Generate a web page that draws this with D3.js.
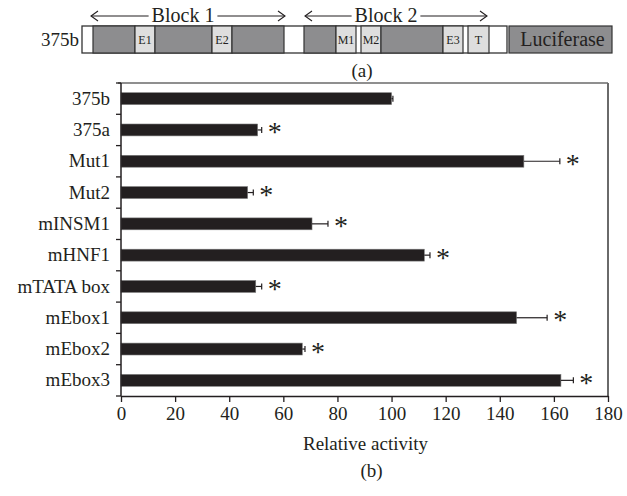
<!DOCTYPE html>
<html>
<head>
<meta charset="utf-8">
<script src="https://cdn.jsdelivr.net/npm/d3@7"></script>
<style>
  html, body { margin: 0; padding: 0; background: #fff; }
  svg { display: block; }
  text { font-family: "Liberation Serif", "DejaVu Serif", serif; fill: #231f20; }
</style>
</head>
<body>
<svg id="chart" width="627" height="496"></svg>
<script>
// ---------- DATA ----------
const categories = ["375b", "375a", "Mut1", "Mut2", "mINSM1", "mHNF1", "mTATA box", "mEbox1", "mEbox2", "mEbox3"];
const values = [100, 50.5, 148.9, 46.8, 70.6, 112.1, 49.8, 146.2, 67.0, 162.6];
const errors = [0.5, 1.5, 13.3, 2.1, 5.9, 2.1, 2.2, 11.3, 1.0, 4.6];
const significant = [false, true, true, true, true, true, true, true, true, true];
const xTicks = [0, 20, 40, 60, 80, 100, 120, 140, 160, 180];
const xTitle = "Relative activity";

// construct schematic (schematic units along the construct)
const constructName = "375b";
const segStart = [11, 53, 73, 130, 150, 222, 254, 279, 299, 361, 386, 427];
const segEnd   = [53, 73, 130, 150, 202, 254, 274, 299, 361, 381, 407, 530];
const segType  = ["region", "site", "region", "site", "region", "region", "site", "site", "region", "site", "site", "reporter"];
const segLabel = ["", "E1", "", "E2", "", "", "M1", "M2", "", "E3", "T", "Luciferase"];
const constructLength = 425;
const blockNames = ["Block 1", "Block 2"];
const blockStart = [9, 223];
const blockEnd = [203, 405];

// ---------- CHART ----------
const svg = d3.select("#chart");
const dark = "#231f20";

// Panel (a): schematic
const sx = d3.scaleLinear().domain([0, 530]).range([82, 612]);
const boxTop = 26, boxH = 27;
const ga = svg.append("g");

ga.append("text").attr("x", 79).attr("y", 46).attr("text-anchor", "end")
  .style("font-size", "19px").text(constructName);

ga.append("rect").attr("x", sx(0)).attr("y", boxTop)
  .attr("width", sx(constructLength) - sx(0)).attr("height", boxH)
  .attr("fill", "#fff").attr("stroke", "#333").attr("stroke-width", 1.3);

const fills = { region: "#8d8d8f", site: "#dedede", reporter: "#8d8d8f" };
segStart.forEach((s, i) => {
  ga.append("rect").attr("x", sx(s)).attr("y", boxTop)
    .attr("width", sx(segEnd[i]) - sx(s)).attr("height", boxH)
    .attr("fill", fills[segType[i]]).attr("stroke", "#333").attr("stroke-width", 1.2);
  if (segLabel[i]) {
    const rep = segType[i] === "reporter";
    ga.append("text").attr("x", (sx(s) + sx(segEnd[i])) / 2 + (rep ? 2 : 0))
      .attr("y", rep ? 45.5 : 44).attr("text-anchor", "middle")
      .style("font-size", rep ? "20px" : "12px").text(segLabel[i]);
  }
});

// block arrows
const arrowY = 16;
blockNames.forEach((name, i) => {
  const x0 = sx(blockStart[i]), x1 = sx(blockEnd[i]);
  const cx = (x0 + x1) / 2 - 5 + (i === 1 ? -5 : 0);
  const t = ga.append("text").attr("x", cx).attr("y", 21.5).attr("text-anchor", "middle")
    .style("font-size", "20px").text(name);
  const w = t.node().getComputedTextLength();
  const l = cx - w / 2 - 3, r = cx + w / 2 + 3;
  const line = (a, b) => ga.append("line").attr("x1", a).attr("x2", b).attr("y1", arrowY).attr("y2", arrowY)
    .attr("stroke", dark).attr("stroke-width", 1.1);
  line(x0, l); line(r, x1);
  ga.append("path").attr("d", `M${x0 + 7},${arrowY - 5} L${x0},${arrowY} L${x0 + 7},${arrowY + 5}`)
    .attr("fill", "none").attr("stroke", dark).attr("stroke-width", 1.1);
  ga.append("path").attr("d", `M${x1 - 7},${arrowY - 5} L${x1},${arrowY} L${x1 - 7},${arrowY + 5}`)
    .attr("fill", "none").attr("stroke", dark).attr("stroke-width", 1.1);
});

ga.append("text").attr("x", 362).attr("y", 77).attr("text-anchor", "middle")
  .style("font-size", "19px").text("(a)");

// Panel (b): bar chart
const pLeft = 121, pRight = 608, pTop = 83, pBottom = 396;
const x = d3.scaleLinear().domain([0, 180]).range([pLeft, pRight]);
const y = d3.scaleBand().domain(categories).range([pTop, pBottom]).paddingInner(0.62).paddingOuter(0.31);
const step = y.step();

const gb = svg.append("g");

// frame top/right
gb.append("line").attr("x1", pLeft - 3).attr("x2", pRight).attr("y1", pTop).attr("y2", pTop)
  .attr("stroke", "#6a6a6a").attr("stroke-width", 1.5);
gb.append("line").attr("x1", pRight).attr("x2", pRight).attr("y1", pTop).attr("y2", pBottom)
  .attr("stroke", "#6a6a6a").attr("stroke-width", 2);

// bars
gb.selectAll("rect.bar").data(categories).join("rect").attr("class", "bar")
  .attr("x", x(0)).attr("y", d => y(d))
  .attr("width", (d, i) => x(values[i]) - x(0)).attr("height", y.bandwidth())
  .attr("fill", dark).attr("stroke", "#7a7a7a").attr("stroke-width", 0.6);

// error bars
categories.forEach((c, i) => {
  const cy = y(c) + y.bandwidth() / 2;
  const xe = x(values[i] + errors[i]);
  gb.append("line").attr("x1", x(values[i])).attr("x2", xe).attr("y1", cy).attr("y2", cy)
    .attr("stroke", dark).attr("stroke-width", 1.2);
  gb.append("line").attr("x1", xe).attr("x2", xe).attr("y1", cy - 3).attr("y2", cy + 3)
    .attr("stroke", dark).attr("stroke-width", 1.2);
  if (significant[i]) {
    gb.append("text").attr("x", xe + 13).attr("y", cy + 11.5).attr("text-anchor", "middle")
      .style("font-size", "28px").text("*");
  }
});

// y axis
const yAxis = gb.append("g").attr("transform", `translate(${pLeft},0)`)
  .call(d3.axisLeft(y).tickSize(0).tickPadding(11));
yAxis.select(".domain").remove();
yAxis.selectAll("text").style("font-size", "19px").style("font-family", "Liberation Serif, serif").attr("fill", dark);
const bounds = d3.range(categories.length + 1).map(i => pTop + i * step);
gb.selectAll("line.ytick").data(bounds).join("line").attr("class", "ytick")
  .attr("x1", pLeft - 5).attr("x2", pLeft).attr("y1", d => d).attr("y2", d => d)
  .attr("stroke", dark).attr("stroke-width", 1.3);
gb.append("line").attr("x1", pLeft).attr("x2", pLeft).attr("y1", pTop).attr("y2", pBottom)
  .attr("stroke", dark).attr("stroke-width", 1.5);

// x axis
const xAxis = gb.append("g").attr("transform", `translate(0,${pBottom})`)
  .call(d3.axisBottom(x).tickValues(xTicks).tickSize(6).tickPadding(5).tickSizeOuter(0));
xAxis.select(".domain").attr("stroke", dark).attr("stroke-width", 1.5);
xAxis.selectAll(".tick line").attr("stroke", dark).attr("stroke-width", 1.3);
xAxis.selectAll("text").style("font-size", "19px").style("font-family", "Liberation Serif, serif").attr("fill", dark);

gb.append("text").attr("x", (pLeft + pRight) / 2 + 1).attr("y", 450).attr("text-anchor", "middle")
  .style("font-size", "19px").text(xTitle);
gb.append("text").attr("x", (pLeft + pRight) / 2 + 7).attr("y", 477).attr("text-anchor", "middle")
  .style("font-size", "19px").text("(b)");
</script>
</body>
</html>
